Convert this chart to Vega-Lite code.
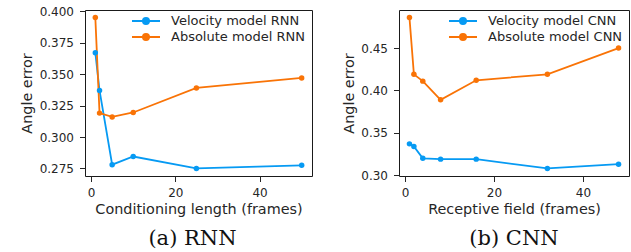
{
  "$schema": "https://vega.github.io/schema/vega-lite/v6.json",
  "padding": {"left": 19, "top": 4, "right": 0, "bottom": 0},
  "background": "white",
  "bounds": "flush",
  "config": {
    "font": "DejaVu Sans",
    "view": {"stroke": "#1a1a1a", "strokeWidth": 1},
    "axis": {
      "domain": false, "grid": false,
      "tickColor": "#262626", "tickSize": 5.5, "tickWidth": 1,
      "labelFont": "DejaVu Sans", "labelFontSize": 12, "labelColor": "#262626",
      "titleFont": "DejaVu Sans", "titleFontSize": 14.4, "titleFontWeight": "normal", "titleColor": "#262626"
    },
    "axisX": {"labelPadding": 6, "titlePadding": 4},
    "axisY": {"labelPadding": 6, "titlePadding": 4.5},
    "legend": {
      "orient": "none", "title": null, "padding": 0,
      "labelFont": "DejaVu Sans", "labelFontSize": 13, "labelColor": "#262626",
      "symbolType": "M-2,0H2M-0.43,0A0.43,0.43 0 1,0 0.43,0A0.43,0.43 0 1,0 -0.43,0Z",
      "symbolSize": 196, "symbolStrokeWidth": 2, "rowPadding": 0, "labelOffset": 17
    },
    "title": {"font": "DejaVu Serif", "fontSize": 21, "fontWeight": "normal", "color": "#111111"}
  },
  "datasets": {
    "rnn": [
      {"x": 1, "y": 0.367, "model": "Velocity model RNN"},
      {"x": 2, "y": 0.337, "model": "Velocity model RNN"},
      {"x": 5, "y": 0.278, "model": "Velocity model RNN"},
      {"x": 10, "y": 0.2845, "model": "Velocity model RNN"},
      {"x": 25, "y": 0.275, "model": "Velocity model RNN"},
      {"x": 50, "y": 0.2775, "model": "Velocity model RNN"},
      {"x": 1, "y": 0.395, "model": "Absolute model RNN"},
      {"x": 2, "y": 0.319, "model": "Absolute model RNN"},
      {"x": 5, "y": 0.316, "model": "Absolute model RNN"},
      {"x": 10, "y": 0.3195, "model": "Absolute model RNN"},
      {"x": 25, "y": 0.339, "model": "Absolute model RNN"},
      {"x": 50, "y": 0.347, "model": "Absolute model RNN"}
    ],
    "cnn": [
      {"x": 1, "y": 0.337, "model": "Velocity model CNN"},
      {"x": 2, "y": 0.334, "model": "Velocity model CNN"},
      {"x": 4, "y": 0.320, "model": "Velocity model CNN"},
      {"x": 8, "y": 0.319, "model": "Velocity model CNN"},
      {"x": 16, "y": 0.319, "model": "Velocity model CNN"},
      {"x": 32, "y": 0.308, "model": "Velocity model CNN"},
      {"x": 48, "y": 0.313, "model": "Velocity model CNN"},
      {"x": 1, "y": 0.486, "model": "Absolute model CNN"},
      {"x": 2, "y": 0.419, "model": "Absolute model CNN"},
      {"x": 4, "y": 0.411, "model": "Absolute model CNN"},
      {"x": 8, "y": 0.389, "model": "Absolute model CNN"},
      {"x": 16, "y": 0.412, "model": "Absolute model CNN"},
      {"x": 32, "y": 0.419, "model": "Absolute model CNN"},
      {"x": 48, "y": 0.450, "model": "Absolute model CNN"}
    ]
  },
  "spacing": 87,
  "resolve": {"scale": {"color": "independent"}, "legend": {"color": "independent"}},
  "hconcat": [
    {
      "width": 227, "height": 166,
      "data": {"name": "rnn"},
      "title": {"text": "(a) RNN", "orient": "bottom", "offset": 12, "dx": -6},
      "encoding": {
        "x": {"field": "x", "type": "quantitative", "title": "Conditioning length (frames)",
              "scale": {"domain": [-1.45, 52.45], "nice": false, "zero": false},
              "axis": {"values": [0, 20, 40]}},
        "y": {"field": "y", "type": "quantitative", "title": "Angle error",
              "scale": {"domain": [0.269, 0.401], "nice": false, "zero": false},
              "axis": {"values": [0.275, 0.3, 0.325, 0.35, 0.375, 0.4], "format": ".3f"}},
        "color": {"field": "model", "type": "nominal",
                  "scale": {"domain": ["Velocity model RNN", "Absolute model RNN"], "range": ["#069af3", "#f97306"]},
                  "sort": ["Velocity model RNN", "Absolute model RNN"],
                  "legend": {"legendX": 53, "legendY": 3}}
      },
      "layer": [
        {"mark": {"type": "line", "strokeWidth": 1.8}},
        {"mark": {"type": "point", "filled": true, "opacity": 1, "size": 30}}
      ]
    },
    {
      "width": 230, "height": 166,
      "data": {"name": "cnn"},
      "title": {"text": "(b) CNN", "orient": "bottom", "offset": 12},
      "encoding": {
        "x": {"field": "x", "type": "quantitative", "title": "Receptive field (frames)",
              "scale": {"domain": [-1.35, 50.35], "nice": false, "zero": false},
              "axis": {"values": [0, 20, 40]}},
        "y": {"field": "y", "type": "quantitative", "title": "Angle error",
              "scale": {"domain": [0.2991, 0.4949], "nice": false, "zero": false},
              "axis": {"values": [0.3, 0.35, 0.4, 0.45], "format": ".2f"}},
        "color": {"field": "model", "type": "nominal",
                  "scale": {"domain": ["Velocity model CNN", "Absolute model CNN"], "range": ["#069af3", "#f97306"]},
                  "sort": ["Velocity model CNN", "Absolute model CNN"],
                  "legend": {"legendX": 56, "legendY": 3}}
      },
      "layer": [
        {"mark": {"type": "line", "strokeWidth": 1.8}},
        {"mark": {"type": "point", "filled": true, "opacity": 1, "size": 30}}
      ]
    }
  ]
}
